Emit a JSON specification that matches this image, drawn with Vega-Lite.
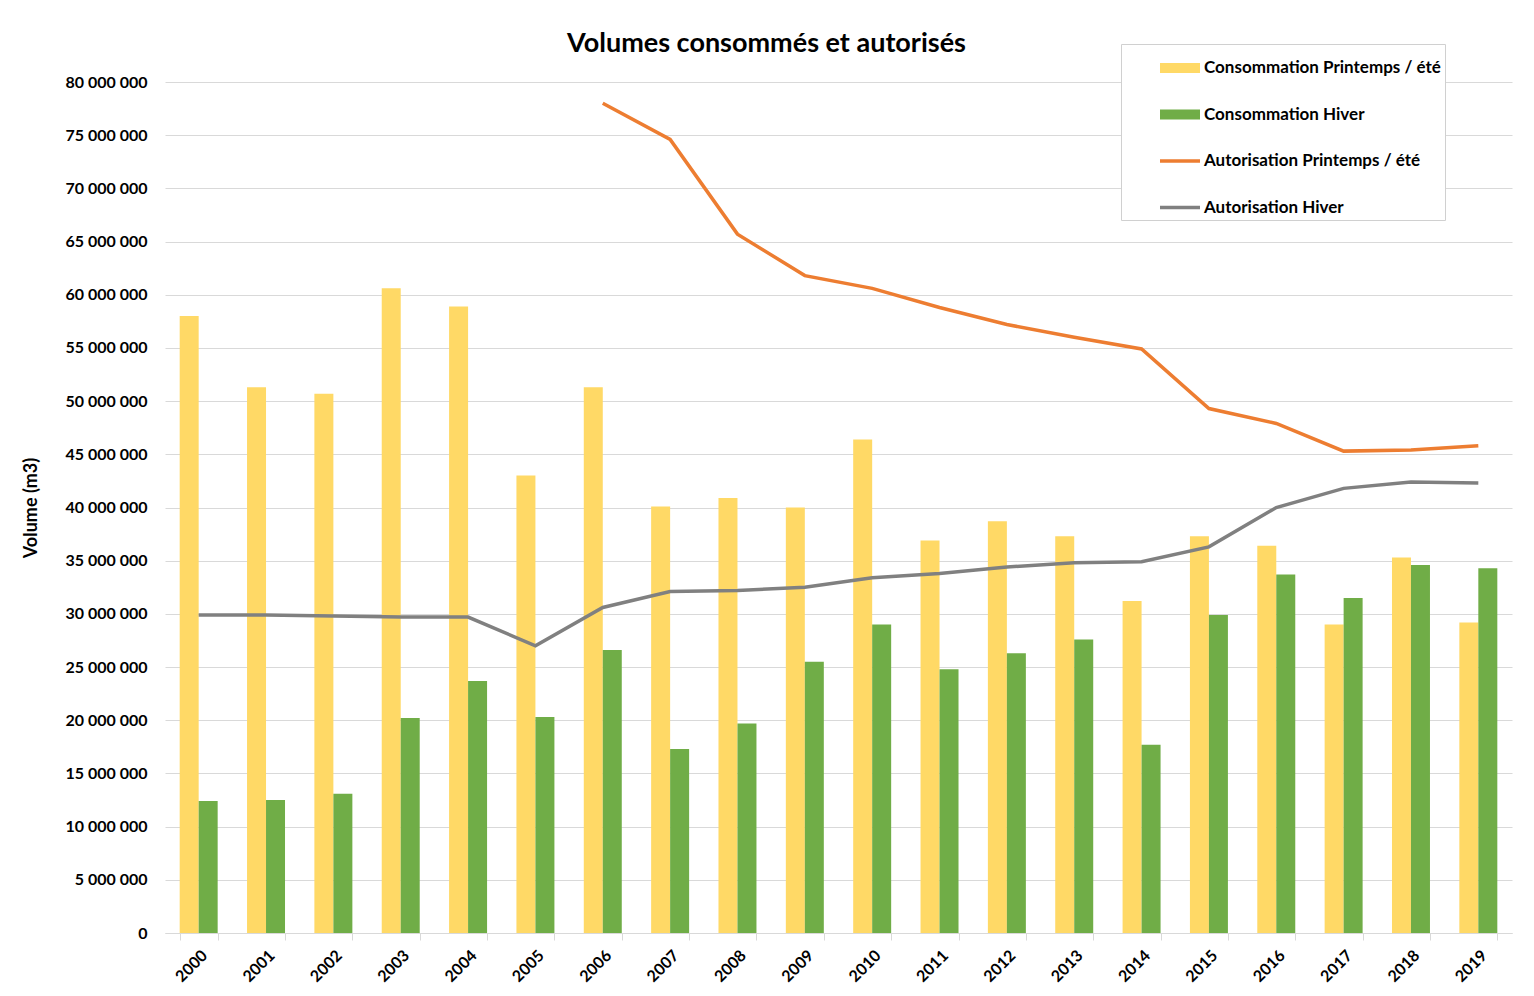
{
  "$schema": "https://vega.github.io/schema/vega-lite/v6.json",
  "width": 1347,
  "height": 851,
  "autosize": {"type": "none"},
  "padding": {"left": 165, "top": 82, "right": 22, "bottom": 63},
  "background": "white",
  "title": {
    "text": "Volumes consommés et autorisés",
    "font": "Lato",
    "fontSize": 27,
    "fontWeight": "bold",
    "color": "black",
    "anchor": "middle",
    "dx": -72,
    "offset": -14
  },
  "data": {
    "values": [
      {"year": "2000", "series": "Consommation Printemps / été", "value": 58000000},
      {"year": "2001", "series": "Consommation Printemps / été", "value": 51300000},
      {"year": "2002", "series": "Consommation Printemps / été", "value": 50700000},
      {"year": "2003", "series": "Consommation Printemps / été", "value": 60600000},
      {"year": "2004", "series": "Consommation Printemps / été", "value": 58900000},
      {"year": "2005", "series": "Consommation Printemps / été", "value": 43000000},
      {"year": "2006", "series": "Consommation Printemps / été", "value": 51300000},
      {"year": "2007", "series": "Consommation Printemps / été", "value": 40100000},
      {"year": "2008", "series": "Consommation Printemps / été", "value": 40900000},
      {"year": "2009", "series": "Consommation Printemps / été", "value": 40000000},
      {"year": "2010", "series": "Consommation Printemps / été", "value": 46400000},
      {"year": "2011", "series": "Consommation Printemps / été", "value": 36900000},
      {"year": "2012", "series": "Consommation Printemps / été", "value": 38700000},
      {"year": "2013", "series": "Consommation Printemps / été", "value": 37300000},
      {"year": "2014", "series": "Consommation Printemps / été", "value": 31200000},
      {"year": "2015", "series": "Consommation Printemps / été", "value": 37300000},
      {"year": "2016", "series": "Consommation Printemps / été", "value": 36400000},
      {"year": "2017", "series": "Consommation Printemps / été", "value": 29000000},
      {"year": "2018", "series": "Consommation Printemps / été", "value": 35300000},
      {"year": "2019", "series": "Consommation Printemps / été", "value": 29200000},
      {"year": "2000", "series": "Consommation Hiver", "value": 12400000},
      {"year": "2001", "series": "Consommation Hiver", "value": 12500000},
      {"year": "2002", "series": "Consommation Hiver", "value": 13100000},
      {"year": "2003", "series": "Consommation Hiver", "value": 20200000},
      {"year": "2004", "series": "Consommation Hiver", "value": 23700000},
      {"year": "2005", "series": "Consommation Hiver", "value": 20300000},
      {"year": "2006", "series": "Consommation Hiver", "value": 26600000},
      {"year": "2007", "series": "Consommation Hiver", "value": 17300000},
      {"year": "2008", "series": "Consommation Hiver", "value": 19700000},
      {"year": "2009", "series": "Consommation Hiver", "value": 25500000},
      {"year": "2010", "series": "Consommation Hiver", "value": 29000000},
      {"year": "2011", "series": "Consommation Hiver", "value": 24800000},
      {"year": "2012", "series": "Consommation Hiver", "value": 26300000},
      {"year": "2013", "series": "Consommation Hiver", "value": 27600000},
      {"year": "2014", "series": "Consommation Hiver", "value": 17700000},
      {"year": "2015", "series": "Consommation Hiver", "value": 29900000},
      {"year": "2016", "series": "Consommation Hiver", "value": 33700000},
      {"year": "2017", "series": "Consommation Hiver", "value": 31500000},
      {"year": "2018", "series": "Consommation Hiver", "value": 34600000},
      {"year": "2019", "series": "Consommation Hiver", "value": 34300000},
      {"year": "2006", "series": "Autorisation Printemps / été", "value": 78000000},
      {"year": "2007", "series": "Autorisation Printemps / été", "value": 74600000},
      {"year": "2008", "series": "Autorisation Printemps / été", "value": 65700000},
      {"year": "2009", "series": "Autorisation Printemps / été", "value": 61800000},
      {"year": "2010", "series": "Autorisation Printemps / été", "value": 60600000},
      {"year": "2011", "series": "Autorisation Printemps / été", "value": 58800000},
      {"year": "2012", "series": "Autorisation Printemps / été", "value": 57200000},
      {"year": "2013", "series": "Autorisation Printemps / été", "value": 56000000},
      {"year": "2014", "series": "Autorisation Printemps / été", "value": 54900000},
      {"year": "2015", "series": "Autorisation Printemps / été", "value": 49300000},
      {"year": "2016", "series": "Autorisation Printemps / été", "value": 47900000},
      {"year": "2017", "series": "Autorisation Printemps / été", "value": 45300000},
      {"year": "2018", "series": "Autorisation Printemps / été", "value": 45400000},
      {"year": "2019", "series": "Autorisation Printemps / été", "value": 45800000},
      {"year": "2000", "series": "Autorisation Hiver", "value": 29900000},
      {"year": "2001", "series": "Autorisation Hiver", "value": 29900000},
      {"year": "2002", "series": "Autorisation Hiver", "value": 29800000},
      {"year": "2003", "series": "Autorisation Hiver", "value": 29700000},
      {"year": "2004", "series": "Autorisation Hiver", "value": 29700000},
      {"year": "2005", "series": "Autorisation Hiver", "value": 27000000},
      {"year": "2006", "series": "Autorisation Hiver", "value": 30600000},
      {"year": "2007", "series": "Autorisation Hiver", "value": 32100000},
      {"year": "2008", "series": "Autorisation Hiver", "value": 32200000},
      {"year": "2009", "series": "Autorisation Hiver", "value": 32500000},
      {"year": "2010", "series": "Autorisation Hiver", "value": 33400000},
      {"year": "2011", "series": "Autorisation Hiver", "value": 33800000},
      {"year": "2012", "series": "Autorisation Hiver", "value": 34400000},
      {"year": "2013", "series": "Autorisation Hiver", "value": 34800000},
      {"year": "2014", "series": "Autorisation Hiver", "value": 34900000},
      {"year": "2015", "series": "Autorisation Hiver", "value": 36300000},
      {"year": "2016", "series": "Autorisation Hiver", "value": 40000000},
      {"year": "2017", "series": "Autorisation Hiver", "value": 41800000},
      {"year": "2018", "series": "Autorisation Hiver", "value": 42400000},
      {"year": "2019", "series": "Autorisation Hiver", "value": 42300000}
    ]
  },
  "encoding": {
    "x": {
      "field": "year",
      "type": "nominal",
      "title": null,
      "scale": {"paddingInner": 0.436, "paddingOuter": 0.218},
      "axis": {
        "labelAngle": -45,
        "labelFont": "Lato",
        "labelFontSize": 16,
        "labelFontWeight": "bold",
        "labelColor": "black",
        "labelPadding": 7,
        "tickBand": "extent",
        "tickColor": "#d9d9d9",
        "tickSize": 7,
        "domainColor": "#d9d9d9",
        "grid": false
      }
    },
    "y": {
      "field": "value",
      "type": "quantitative",
      "title": "Volume (m3)",
      "scale": {"domain": [0, 80000000], "nice": false},
      "axis": {
        "values": [0, 5000000, 10000000, 15000000, 20000000, 25000000, 30000000, 35000000, 40000000, 45000000, 50000000, 55000000, 60000000, 65000000, 70000000, 75000000, 80000000],
        "format": ",d",
        "labelFont": "Lato",
        "labelFontSize": 16,
        "labelFontWeight": "bold",
        "labelColor": "black",
        "labelPadding": 18,
        "ticks": false,
        "domain": false,
        "gridColor": "#d9d9d9",
        "titleFont": "Lato",
        "titleFontSize": 18,
        "titleFontWeight": "bold",
        "titleColor": "black",
        "titlePadding": 24
      }
    },
    "color": {
      "field": "series",
      "type": "nominal",
      "scale": {
        "domain": ["Consommation Printemps / été", "Consommation Hiver", "Autorisation Printemps / été", "Autorisation Hiver"],
        "range": ["#FFD966", "#70AD47", "#ED7D31", "#808080"]
      },
      "legend": {
        "orient": "none",
        "legendX": 956,
        "legendY": -38,
        "title": null,
        "padding": 4,
        "symbolOffset": 35,
        "symbolSize": 1600,
        "rowPadding": 18.5,
        "labelFont": "Lato",
        "labelFontSize": 17,
        "labelFontWeight": "bold",
        "labelColor": "black",
        "labelOffset": 4,
        "labelLimit": 500,
        "strokeColor": "#d0d0d0",
        "fillColor": "white",
        "encode": {
          "symbols": {
            "update": {
              "shape": {"signal": "indexof(datum.label, 'Autorisation') === 0 ? 'M-1,-0.09H1V0.09H-1Z' : 'M-1,-0.25H1V0.25H-1Z'"},
              "fill": {"scale": "color", "field": "value"},
              "fillOpacity": {"value": 1},
              "strokeWidth": {"value": 0}
            }
          }
        }
      }
    }
  },
  "layer": [
    {
      "transform": [{"filter": {"field": "series", "oneOf": ["Consommation Printemps / été", "Consommation Hiver"]}}],
      "mark": {"type": "bar"},
      "encoding": {
        "xOffset": {
          "field": "series",
          "type": "nominal",
          "scale": {"domain": ["Consommation Printemps / été", "Consommation Hiver"], "paddingInner": 0, "paddingOuter": 0}
        }
      }
    },
    {
      "transform": [{"filter": {"field": "series", "oneOf": ["Autorisation Printemps / été", "Autorisation Hiver"]}}],
      "mark": {"type": "line", "strokeWidth": 3.5},
      "encoding": {}
    }
  ],
  "config": {
    "locale": {
      "number": {"decimal": ",", "thousands": " ", "grouping": [3], "currency": ["", " €"]}
    },
    "view": {"stroke": null}
  }
}
